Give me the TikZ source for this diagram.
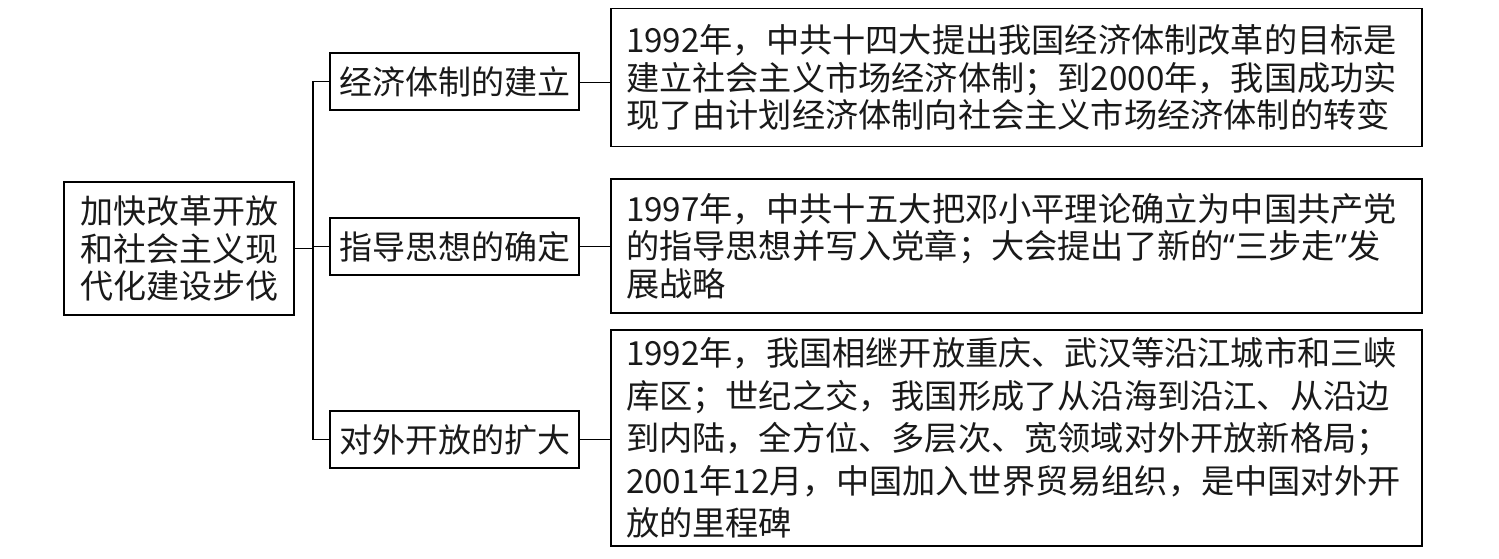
\documentclass[tikz,border=0pt]{standalone}
\usepackage{fontspec}
\newfontfamily\cjk{Noto Sans CJK SC}
\newfontfamily\latq{Noto Sans}
\tikzset{
  box/.style={draw=black, line width=1.6pt, rectangle, inner sep=0pt, font=\cjk\fontsize{33}{37.5}\selectfont, text=black!90},
  leaf/.style={box, align=left, inner xsep=15pt},
  conn/.style={draw=black, line width=1.6pt}
}
\begin{document}
\begin{tikzpicture}[x=1pt,y=-1pt]
\useasboundingbox (0,0) rectangle (1499,559);
\fill[white] (0,0) rectangle (1499,559);
% root
\node[box, minimum width=230pt, minimum height=133pt, align=center] (root) at (179,248.5)
  {加快改革开放\\和社会主义现\\代化建设步伐};
% middle
\node[box, minimum width=249pt, minimum height=57pt] (m1) at (454.5,81.5) {经济体制的建立};
\node[box, minimum width=249pt, minimum height=57pt] (m2) at (454.5,246.5) {指导思想的确定};
\node[box, minimum width=249pt, minimum height=57pt] (m3) at (454.5,439.5) {对外开放的扩大};
% right
\node[leaf, text width=781pt, minimum height=138pt, font=\cjk\fontsize{33.2}{37.5}\selectfont] (r1) at (1016.5,77.5)
  {1992年，中共十四大提出我国经济体制改革的目标是\\建立社会主义市场经济体制；到2000年，我国成功实\\现了由计划经济体制向社会主义市场经济体制的转变};
\node[leaf, text width=781pt, minimum height=134pt, font=\cjk\fontsize{33.2}{37.5}\selectfont] (r2) at (1016.5,246)
  {1997年，中共十五大把邓小平理论确立为中国共产党\\的指导思想并写入党章；大会提出了新的{\latq “}三步走{\latq ”}发\\展战略};
\node[leaf, text width=781pt, minimum height=216pt, font=\cjk\fontsize{33.2}{42.5}\selectfont] (r3) at (1016.5,438)
  {1992年，我国相继开放重庆、武汉等沿江城市和三峡\\库区；世纪之交，我国形成了从沿海到沿江、从沿边\\到内陆，全方位、多层次、宽领域对外开放新格局；\\2001年12月，中国加入世界贸易组织，是中国对外开\\放的里程碑};
% trunk
\coordinate (trunk) at (313,248.5);
\draw[conn] (root.east) -- (root.east -| trunk);
\draw[conn] (m1.west) -- (m1.west -| trunk) -- (m3.west -| trunk) -- (m3.west);
\draw[conn] (m2.west) -- (m2.west -| trunk);
\draw[conn] ([yshift=-1pt]m1.east) -- ([yshift=-1pt]m1.east -| r1.west);
\draw[conn] (m2.east) -- (m2.east -| r2.west);
\draw[conn] (m3.east) -- (m3.east -| r3.west);
\end{tikzpicture}
\end{document}
